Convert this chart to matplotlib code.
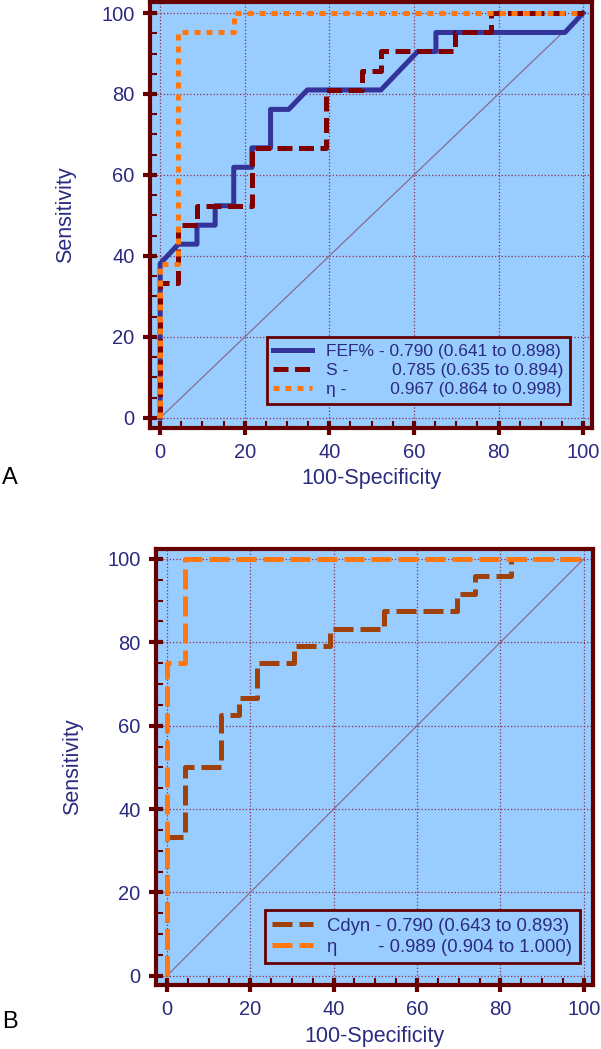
import matplotlib
matplotlib.use('Agg')
import matplotlib.pyplot as plt
from matplotlib.ticker import MultipleLocator

plt.rcParams['font.family'] = ['Liberation Sans', 'DejaVu Sans']

# panel A data (100-Specificity, Sensitivity)
fef_x = [0, 0, 4.3, 8.7, 8.7, 13, 13, 17.4, 17.4, 21.7, 21.7, 26.1, 26.1, 30.4, 34.8, 52.2, 60.9, 65.2, 65.2, 95.7, 100]
fef_y = [0, 38.1, 42.9, 42.9, 47.6, 47.6, 52.4, 52.4, 61.9, 61.9, 66.7, 66.7, 76.2, 76.2, 81, 81, 90.5, 90.5, 95.2, 95.2, 100]
s_x = [0, 0, 4.3, 4.3, 8.7, 8.7, 21.7, 21.7, 39.1, 39.1, 47.8, 47.8, 52.2, 52.2, 69.6, 69.6, 78.3, 78.3, 100]
s_y = [0, 33.3, 33.3, 47.6, 47.6, 52.4, 52.4, 66.7, 66.7, 81, 81, 85.7, 85.7, 90.5, 90.5, 95.2, 95.2, 100, 100]
etaA_x = [0, 0, 4.3, 4.3, 17.4, 17.4, 100]
etaA_y = [0, 38.1, 38.1, 95.2, 95.2, 100, 100]

# panel B data
cdyn_x = [0, 0, 4.3, 4.3, 13, 13, 17.4, 17.4, 21.7, 21.7, 30.4, 30.4, 39.1, 39.1, 52.2, 52.2, 69.6, 69.6, 73.9, 73.9, 82.6, 82.6, 100]
cdyn_y = [0, 33.3, 33.3, 50, 50, 62.5, 62.5, 66.7, 66.7, 75, 75, 79.2, 79.2, 83.3, 83.3, 87.5, 87.5, 91.7, 91.7, 95.8, 95.8, 100, 100]
etaB_x = [0, 0, 4.3, 4.3, 100]
etaB_y = [0, 75, 75, 100, 100]

labelsA = ['FEF% - 0.790 (0.641 to 0.898)',
           'S -         0.785 (0.635 to 0.894)',
           'η -         0.967 (0.864 to 0.998)']
labelsB = ['Cdyn - 0.790 (0.643 to 0.893)',
           'η        - 0.989 (0.904 to 1.000)']
ticks = [0, 20, 40, 60, 80, 100]

BG = '#99ccff'
FRAME = '#660000'
NAVY = '#2b2b80'


def style_axes(ax, xlim, ylim):
    ax.set_facecolor(BG)
    ax.set_xlim(*xlim)
    ax.set_ylim(*ylim)
    ax.set_xticks(ticks)
    ax.set_yticks(ticks)
    ax.xaxis.set_minor_locator(MultipleLocator(5))
    ax.yaxis.set_minor_locator(MultipleLocator(5))
    for sp in ax.spines.values():
        sp.set_color(FRAME)
        sp.set_linewidth(3)
    ax.tick_params(which='major', direction='inout', length=10, width=3,
                   color=FRAME, labelcolor=NAVY, labelsize=14.5, pad=6)
    ax.tick_params(which='minor', direction='in', length=5, width=1.5, color=FRAME)
    ax.grid(True, which='major', linestyle=':', color='#8a3050', linewidth=0.9)
    ax.set_axisbelow(True)
    ax.plot([0, 100], [0, 100], color='#8a6a90', linewidth=0.9, zorder=1)
    ax.set_xlabel('100-Specificity', color=NAVY, fontsize=15.5)
    ax.set_ylabel('Sensitivity', color=NAVY, fontsize=15.5)
    ax.xaxis.set_label_coords(0.5, -0.094)
    ax.yaxis.set_label_coords(-0.168, 0.5)


def add_legend(ax, anchor, size):
    leg = ax.legend(loc='lower right', bbox_to_anchor=anchor, borderaxespad=0,
                    fontsize=size, fancybox=False, framealpha=1, facecolor=BG,
                    edgecolor=FRAME, handlelength=2.2, labelspacing=0.22,
                    borderpad=0.4, labelcolor=NAVY)
    leg.get_frame().set_linewidth(2)


fig = plt.figure(figsize=(6.01, 10.49), dpi=100)

axA = fig.add_axes([0.2496, 0.592, 0.7354, 0.406])
style_axes(axA, (-2.4, 102.1), (-2.5, 102.7))
axA.plot(fef_x, fef_y, color='#333399', linewidth=3.6, label=labelsA[0], zorder=3)
axA.plot(s_x, s_y, color='#800000', linewidth=3.6, dashes=(3, 1.3), label=labelsA[1], zorder=4)
axA.plot(etaA_x, etaA_y, color='#ff7711', linewidth=3.6, dashes=(1.2, 1.2), label=labelsA[2], zorder=5)
add_legend(axA, (0.95, 0.056), 12.5)

axB = fig.add_axes([0.2596, 0.061, 0.727, 0.4157])
style_axes(axB, (-2.6, 102.2), (-2.2, 102.4))
axB.plot(cdyn_x, cdyn_y, color='#a0400a', linewidth=3.6, dashes=(4, 1.4), label=labelsB[0], zorder=3)
axB.plot(etaB_x, etaB_y, color='#ff7711', linewidth=3.6, dashes=(4, 1.4), label=labelsB[1], zorder=4)
add_legend(axB, (0.97, 0.05), 13.3)

fig.text(0.003, 1 - 478 / 1049, 'A', fontsize=17, va='center', ha='left')
fig.text(0.003, 1 - 1022 / 1049, 'B', fontsize=17, va='center', ha='left')

fig.savefig('out.png', dpi=100, facecolor='white')
